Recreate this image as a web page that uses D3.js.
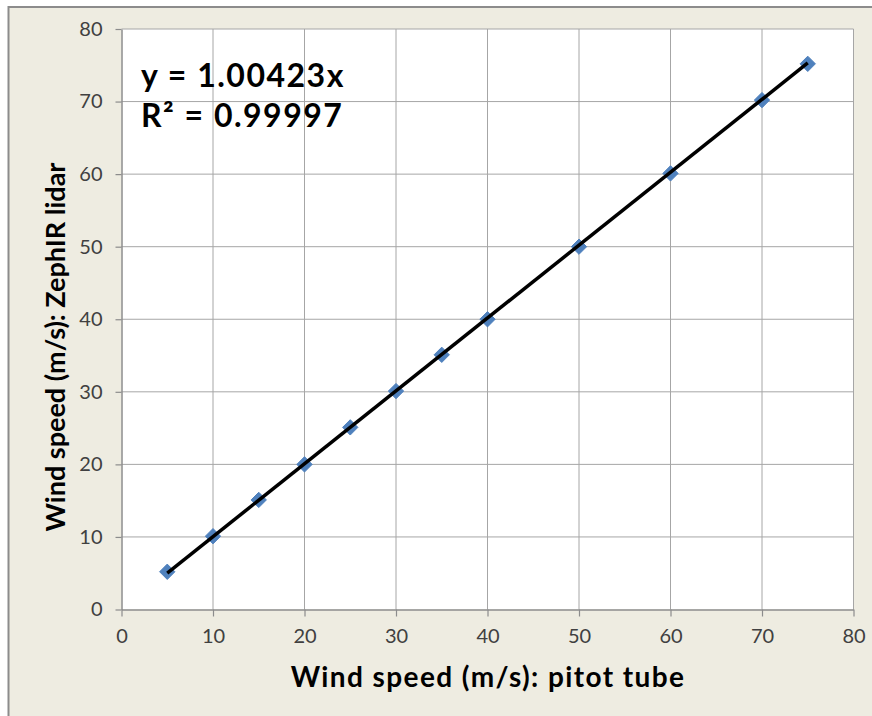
<!DOCTYPE html>
<html lang="en">
<head>
<meta charset="UTF-8">
<title>Wind speed</title>
<script src="https://cdn.jsdelivr.net/npm/d3@7"></script>
<style>
  body { margin: 0; background: #fff; }
  svg { display: block; font-family: Lato, "Open Sans", sans-serif; }
</style>
</head>
<body>
<div id="chart"></div>
<script>
  // pitot tube vs lidar readings, m/s
  const pitot = [5, 10, 15, 20, 25, 30, 35, 40, 50, 60, 70, 75];
  const lidar = [5.2, 10.1, 15.1, 20, 25.1, 30.1, 35.1, 40, 50, 60.1, 70.2, 75.2];
  const xTicks = [0, 10, 20, 30, 40, 50, 60, 70, 80];
  const yTicks = [0, 10, 20, 30, 40, 50, 60, 70, 80];
  const slope = 1.00423;
  const eqLines = ["y = 1.00423x", "R² = 0.99997"];

  const W = 872, H = 716;
  const m = { left: 121.5, right: 18.5, top: 29, bottom: 106.5 };

  const svg = d3.select("#chart").append("svg")
    .attr("width", W)
    .attr("height", H);

  // beige chart area with grey frame
  svg.append("rect")
    .attr("x", 8.5).attr("y", 7)
    .attr("width", W).attr("height", H)
    .attr("fill", "#eeece1")
    .attr("stroke", "#8c8c8c")
    .attr("stroke-width", 2);

  const x = d3.scaleLinear().domain([0, 80]).range([m.left, W - m.right]);
  const y = d3.scaleLinear().domain([0, 80]).range([H - m.bottom, m.top]);

  svg.append("rect")
    .attr("x", x(0)).attr("y", y(80))
    .attr("width", x(80) - x(0)).attr("height", y(0) - y(80))
    .attr("fill", "#fff");

  // grid
  svg.append("g").selectAll("line").data(xTicks.slice(1)).join("line")
    .attr("x1", d => x(d)).attr("x2", d => x(d))
    .attr("y1", y(0)).attr("y2", y(80))
    .attr("stroke", "#a6a6a6").attr("stroke-width", 1);
  svg.append("g").selectAll("line").data(yTicks.slice(1)).join("line")
    .attr("x1", x(0)).attr("x2", x(80))
    .attr("y1", d => y(d)).attr("y2", d => y(d))
    .attr("stroke", "#a6a6a6").attr("stroke-width", 1);

  const xAxis = svg.append("g")
    .attr("transform", `translate(0,${y(0)})`)
    .call(d3.axisBottom(x).tickValues(xTicks).tickSize(7).tickPadding(12).tickSizeOuter(0));
  const yAxis = svg.append("g")
    .attr("transform", `translate(${x(0)},0)`)
    .call(d3.axisLeft(y).tickValues(yTicks).tickSize(6).tickPadding(13).tickSizeOuter(0));

  [xAxis, yAxis].forEach(g => {
    g.attr("font-size", null).attr("font-family", null);
    g.select(".domain").attr("stroke", "#8c8c8c").attr("stroke-width", 1.5);
    g.selectAll(".tick line").attr("stroke", "#8c8c8c").attr("stroke-width", 1.2);
    g.selectAll(".tick text")
      .attr("fill", "#404040")
      .style("font-size", "20px");
  });

  // markers
  const diamond = d3.symbol().type(d3.symbolDiamond2).size(150);
  svg.append("g").selectAll("path").data(pitot).join("path")
    .attr("transform", (d, i) => `translate(${x(d)},${y(lidar[i])})`)
    .attr("d", diamond)
    .attr("fill", "#4f81bd")
    .attr("stroke", "#4f81bd")
    .attr("stroke-width", 1);

  // linear trendline over the markers
  const ext = d3.extent(pitot);
  svg.append("line")
    .attr("x1", x(ext[0])).attr("y1", y(ext[0] * slope))
    .attr("x2", x(ext[1])).attr("y2", y(ext[1] * slope))
    .attr("stroke", "#000").attr("stroke-width", 3.5);

  svg.append("g").selectAll("text").data(eqLines).join("text")
    .attr("x", 141)
    .attr("y", (d, i) => 87 + i * 40)
    .attr("font-size", 32)
    .attr("font-weight", "bold")
    .attr("letter-spacing", 1.5)
    .attr("fill", "#000")
    .text(d => d);

  svg.append("text")
    .attr("x", 488).attr("y", 687)
    .attr("text-anchor", "middle")
    .attr("font-size", 28)
    .attr("font-weight", "bold")
    .attr("letter-spacing", 1.4)
    .text("Wind speed (m/s): pitot tube");

  svg.append("text")
    .attr("transform", "translate(65,347) rotate(-90)")
    .attr("text-anchor", "middle")
    .attr("font-size", 27)
    .attr("font-weight", "bold")
    .text("Wind speed (m/s): ZephIR lidar");
</script>
</body>
</html>
